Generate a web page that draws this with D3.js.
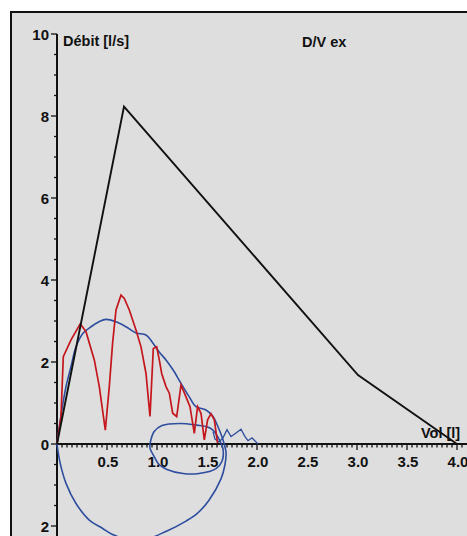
<!DOCTYPE html>
<html>
<head>
<meta charset="utf-8">
<script src="https://cdn.jsdelivr.net/npm/d3@7"></script>
<style>
  body { margin: 0; background: #fff; overflow: hidden; }
  svg { display: block; }
  svg text { font-family: "Liberation Sans", Arial, sans-serif; font-weight: bold; fill: #111; }
</style>
</head>
<body>
<div id="chart"></div>
<script>
// Reference line (black): [volume, flow]
const refLine = [[0, 0], [0.67, 8.23], [3.01, 1.68], [4.0, 0.0]];

// Measured expiration, red trace
const redTrace = [
  [0, 0], [0.04, 0.67], [0.063, 2.13], [0.14, 2.54], [0.233, 2.93], [0.29, 2.74],
  [0.373, 2.05], [0.423, 1.40], [0.483, 0.34], [0.523, 1.40], [0.556, 2.46],
  [0.59, 3.27], [0.64, 3.63], [0.673, 3.55], [0.723, 3.27], [0.79, 2.78],
  [0.84, 2.37], [0.89, 1.72], [0.93, 0.67], [0.963, 2.33], [0.997, 2.37],
  [1.023, 2.05], [1.047, 1.72], [1.09, 1.40], [1.123, 1.24], [1.157, 0.75],
  [1.197, 0.67], [1.24, 1.44], [1.29, 1.15], [1.33, 0.91], [1.373, 0.26],
  [1.406, 0.91], [1.44, 0.75], [1.473, 0.10], [1.506, 0.59], [1.54, 0.74],
  [1.573, 0.59], [1.606, 0.02]
];

// Blue loops
const blueBigLoop = [
  [0, 0], [0.04, 0.7], [0.09, 1.40], [0.14, 1.89], [0.19, 2.37], [0.26, 2.70],
  [0.34, 2.86], [0.42, 2.98], [0.49, 3.04], [0.59, 2.98], [0.69, 2.86],
  [0.79, 2.71], [0.89, 2.66], [0.96, 2.46], [1.02, 2.25], [1.09, 2.05],
  [1.16, 1.81], [1.24, 1.48], [1.32, 1.16], [1.39, 0.91], [1.49, 0.83],
  [1.56, 0.67], [1.61, 0.42], [1.66, 0.10], [1.69, -0.2], [1.68, -0.5],
  [1.64, -0.85], [1.52, -1.37], [1.4, -1.7], [1.29, -1.88], [1.1, -2.12],
  [0.8, -2.38], [0.55, -2.2], [0.45, -2.05], [0.32, -1.85], [0.19, -1.45],
  [0.09, -0.96], [0.03, -0.45], [0, 0]
];
const blueSmallLoop = [
  [0.93, 0], [0.97, 0.3], [1.05, 0.45], [1.23, 0.5], [1.4, 0.46], [1.5, 0.42],
  [1.56, 0.34], [1.62, 0.12], [1.66, -0.12], [1.65, -0.42], [1.59, -0.6],
  [1.42, -0.72], [1.26, -0.72], [1.1, -0.62], [1.02, -0.5], [0.97, -0.3],
  [0.93, -0.1], [0.93, 0]
];
const blueTail = [
  [1.56, 0.3], [1.58, 0.12], [1.62, 0.05], [1.66, 0.15], [1.7, 0.35], [1.74, 0.18],
  [1.78, 0.25], [1.84, 0.36], [1.88, 0.18], [1.91, 0.08], [1.95, 0.15], [2.01, 0.0]
];

const xTickValues = [0.5, 1.0, 1.5, 2.0, 2.5, 3.0, 3.5, 4.0];
const yTickValues = [-2, 0, 2, 4, 6, 8, 10];

const W = 467, H = 536;
const svg = d3.select("#chart").append("svg")
  .attr("width", W).attr("height", H);

// panel with frame (right and bottom edges run off the picture)
svg.append("rect").attr("x", 11).attr("y", 12).attr("width", W + 40).attr("height", H + 40)
  .attr("fill", "#dedede").attr("stroke", "#111").attr("stroke-width", 2);

const x = d3.scaleLinear().domain([0, 4]).range([57, 457]);
const y = d3.scaleLinear().domain([-2, 10]).range([526, 34]);

// axes
svg.append("line").attr("x1", x(0)).attr("x2", W).attr("y1", y(0)).attr("y2", y(0))
  .attr("stroke", "#111").attr("stroke-width", 2);
svg.append("line").attr("x1", x(0)).attr("x2", x(0)).attr("y1", y(10)).attr("y2", H)
  .attr("stroke", "#111").attr("stroke-width", 2);

// x minor ticks
svg.append("g").selectAll("line").data(d3.range(0.05, 4.06, 0.05)).join("line")
  .attr("x1", d => x(d)).attr("x2", d => x(d))
  .attr("y1", y(0)).attr("y2", d => y(0) + (Math.abs(d * 2 - Math.round(d * 2)) < 1e-6 ? 6 : 3.5))
  .attr("stroke", "#111").attr("stroke-width", 1.3);

svg.append("g").selectAll("text").data(xTickValues).join("text")
  .attr("x", d => x(d) + 1).attr("y", y(0) + 23)
  .attr("text-anchor", "middle").attr("font-size", 15)
  .text(d => d.toFixed(1));

// y ticks
svg.append("g").selectAll("line").data(d3.range(-2.5, 10.01, 0.5)).join("line")
  .attr("x1", d => x(0) - (d % 2 === 0 ? 6 : 3)).attr("x2", x(0))
  .attr("y1", d => y(d)).attr("y2", d => y(d))
  .attr("stroke", "#111").attr("stroke-width", 1.3);

svg.append("g").selectAll("text").data(yTickValues).join("text")
  .attr("x", x(0) - 8).attr("y", d => y(d) + 5.5)
  .attr("text-anchor", "end").attr("font-size", 15)
  .text(d => Math.abs(d));

// curves
const line = d3.line().x(d => x(d[0])).y(d => y(d[1]));
const smooth = d3.line().x(d => x(d[0])).y(d => y(d[1])).curve(d3.curveCatmullRom);

svg.append("path").datum(blueBigLoop).attr("d", smooth)
  .attr("fill", "none").attr("stroke", "#2d4d9e").attr("stroke-width", 1.6);
svg.append("path").datum(blueSmallLoop).attr("d", smooth)
  .attr("fill", "none").attr("stroke", "#2d4d9e").attr("stroke-width", 1.6);
svg.append("path").datum(blueTail).attr("d", line)
  .attr("fill", "none").attr("stroke", "#2d4d9e").attr("stroke-width", 1.3);
svg.append("path").datum(redTrace).attr("d", line)
  .attr("fill", "none").attr("stroke", "#c4161c").attr("stroke-width", 1.7);
svg.append("path").datum(refLine).attr("d", line)
  .attr("fill", "none").attr("stroke", "#111").attr("stroke-width", 1.9);

// labels
svg.append("text").attr("x", 63).attr("y", 46).attr("font-size", 14.5).text("Débit [l/s]");
svg.append("text").attr("x", 302).attr("y", 47).attr("font-size", 14.5).text("D/V ex");
svg.append("text").attr("x", 421).attr("y", 438).attr("font-size", 14.5).text("Vol [l]");
</script>
</body>
</html>
